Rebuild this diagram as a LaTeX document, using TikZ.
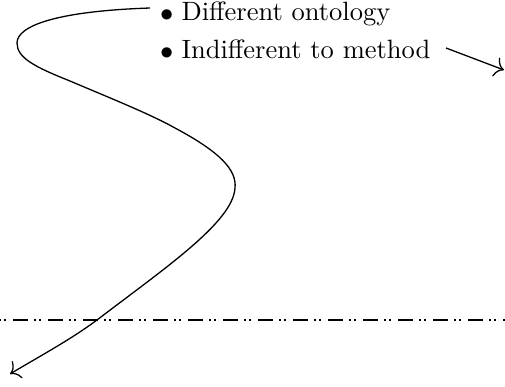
\documentclass[tikz,border=0pt]{standalone}
\usetikzlibrary{arrows.meta}
\tikzset{
  curvearrow/.style={line width=1.3pt, -{To[length=9pt,width=20pt,line width=1.3pt]}},
  itemtext/.style={anchor=base west, inner sep=0pt, scale=2.65},
  bulletmark/.style={anchor=center, inner sep=0pt, scale=2.65},
  axisline/.style={line width=1.4pt, dash pattern=on 15pt off 5.95pt on 1.5pt off 3.5pt on 1.5pt off 7.55pt, dash phase=21.7pt}
}
\begin{document}
\begin{tikzpicture}[x=1pt,y=-1pt]
\path[use as bounding box] (0,0) rectangle (505,386);
% list items
\node[bulletmark] (b1) at (166.7,15.3) {$\bullet$};
\node[bulletmark] (b2) at (166.7,53.3) {$\bullet$};
\node[itemtext] (t1) at (181,20.7) {Different ontology};
\node[itemtext] (t2) at (181,58.7) {Indifferent to method};
% short arrow
\coordinate (s1) at (446,48);
\coordinate (e1) at (504,70);
\draw[curvearrow] (s1) -- (e1);
% long S-curve
\coordinate (c0) at (150,8);
\coordinate (c1) at (17,43);
\coordinate (c2) at (70,81);
\coordinate (c3) at (175,128);
\coordinate (c4) at (235,188);
\coordinate (c5) at (97,320);
\coordinate (c6) at (10,374);
\draw[curvearrow] (c0) .. controls (60,11) and (17,25) .. (c1)
  .. controls (17,58) and (35,67) .. (c2)
  .. controls (110,98) and (150,114) .. (c3)
  .. controls (220,152) and (237,170) .. (c4)
  .. controls (233,222) and (165,268) .. (c5)
  .. controls (70,340) and (40,356) .. (c6);
% dash-dot-dot line
\coordinate (l0) at (0,320);
\coordinate (l1) at (505,320);
\draw[axisline] (l0) -- (l1);
\end{tikzpicture}
\end{document}
